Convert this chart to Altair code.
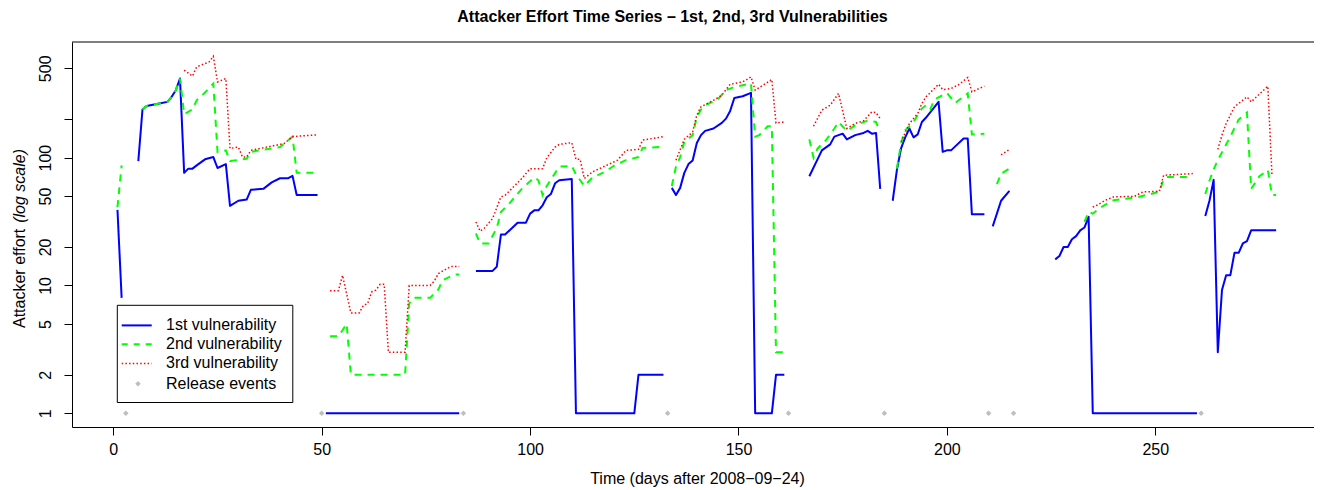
import altair as alt
import pandas as pd

# ---------------- data ----------------
SERIES = ["1st vulnerability", "2nd vulnerability", "3rd vulnerability"]

BLUE = [
    [(1, 39), (2, 8)],
    [(6, 94), (7, 238), (8, 254), (11, 265), (13, 273), (14, 299), (15, 337), (16, 416),
     (17, 76), (18, 82), (19, 82), (20, 87), (22, 97), (24, 101), (25, 83), (27, 89),
     (28, 42), (30, 46), (32, 47), (33, 56), (36, 57), (38, 64), (40, 69), (42, 69),
     (43, 72), (44, 51), (49, 51)],
    [(51, 1), (83, 1)],
    [(87, 13), (91, 13), (92, 14), (93, 25), (94, 25), (97, 31), (99, 31), (100, 36.5),
     (101, 38.7), (102, 38.7), (103, 42.4), (104, 49), (105, 52), (106, 63), (107, 66.5),
     (110, 68), (111, 1), (125, 1), (126, 2), (132, 2)],
    [(134, 58), (135, 51), (136, 58), (137, 76), (138, 89), (139, 95), (140, 130),
     (141, 150), (142, 162), (144, 169), (146, 187), (147, 202), (148, 232), (149, 293),
     (151, 302), (153, 321), (154, 1), (158, 1), (159, 2), (161, 2)],
    [(167, 71.5), (170, 114), (172, 127), (173, 146), (175, 154), (176, 139), (178, 150),
     (180, 156), (181, 162), (182, 154), (183, 156), (184, 57)],
    [(187, 46), (188, 80), (189, 118), (190, 144), (191, 169), (192, 144), (193, 152),
     (194, 190), (195, 206), (198, 273), (199, 111), (200, 114), (201, 114), (204, 141),
     (205, 141), (206, 36), (209, 36)],
    [(211, 29), (213, 46), (215, 55)],
    [(226, 16), (227, 17), (228, 20), (229, 20), (230, 23), (231, 24.3), (232, 27),
     (233, 28.4), (234, 34.4), (235, 1), (260, 1)],
    [(262, 35), (263, 46), (264, 67), (265, 3), (266, 9.2), (267, 12), (268, 12),
     (269, 18), (270, 18), (271, 21.3), (272, 22.2), (273, 27), (279, 27)],
]

GREEN = [
    [(1, 41), (2, 87)],
    [(7, 238), (8, 254), (11, 265), (13, 273), (14, 299), (15, 337), (16, 416), (17, 219),
     (19, 238), (20, 281), (22, 323), (24, 380), (25, 111), (27, 114), (28, 94), (32, 98),
     (33, 111), (40, 121), (43, 146), (44, 76), (49, 76)],
    [(52, 4), (54, 4), (56, 5), (57, 2), (70, 2), (71, 7.2), (72, 8), (76, 8), (78, 9.3),
     (79, 11), (82, 12.2), (83, 12.2)],
    [(87, 25.5), (88, 21.3), (90, 21.3), (92, 28), (93, 37.6), (95, 43.7), (98, 57),
     (101, 70), (102, 66.5), (103, 51), (104, 60), (107, 85), (110, 86), (111, 74),
     (113, 60), (115, 70), (118, 77.5), (120, 86), (123, 95.5), (126, 101), (127, 119),
     (131, 121)],
    [(134, 60), (135, 85), (136, 101), (137, 133), (139, 150), (140, 208), (141, 238),
     (142, 257), (145, 285), (147, 337), (149, 357), (153, 380), (154, 146), (155, 150),
     (157, 176), (158, 176), (159, 3), (161, 3)],
    [(167, 139), (168, 100), (169, 118), (171, 137), (173, 169), (174, 190), (176, 162),
     (178, 179), (181, 195), (183, 190), (184, 159)],
    [(188, 82), (189, 130), (190, 164), (192, 190), (194, 242), (195, 257), (196, 238),
     (197, 285), (200, 321), (202, 268), (205, 318), (206, 152), (209, 154)],
    [(212, 62), (213, 75), (215, 82)],
    [(233, 31.4), (234, 37.6), (235, 36.5), (237, 41), (240, 46.4), (243, 47.6),
     (246, 49.3), (251, 54), (252, 68), (253, 70.6), (259, 70.6)],
    [(262, 52), (263, 66), (264, 81), (265, 95.5), (268, 146), (270, 198), (272, 225),
     (273, 57), (275, 71.5), (277, 80), (278, 51), (279, 51)],
]

RED = [
    [(17, 483), (19, 434), (20, 513), (23, 561), (24, 621), (25, 391), (27, 416),
     (28, 118), (30, 121), (31, 101), (32, 101), (33, 114), (38, 123), (41, 129),
     (43, 146), (49, 151)],
    [(52, 9.1), (54, 9.1), (55, 12), (57, 6.1), (59, 6.1), (60, 7), (61, 7.2), (62, 8.9),
     (63, 9.2), (64, 10.2), (65, 10.2), (66, 3), (70, 3), (71, 10), (76, 10), (77, 10.8),
     (78, 12.4), (81, 14.1), (83, 14.1)],
    [(87, 31.4), (88, 26.6), (89, 28), (91, 33.4), (93, 49.3), (94, 50.8), (96, 59),
     (98, 68.6), (100, 82), (103, 82), (104, 99.5), (106, 121), (107, 127), (110, 131),
     (111, 97), (112, 97), (113, 68.6), (115, 77.5), (118, 86), (121, 95.5), (123, 114),
     (126, 116), (127, 137), (132, 146)],
    [(135, 95.5), (137, 139), (139, 159), (140, 215), (141, 250), (144, 281), (146, 308),
     (148, 375), (151, 391), (153, 428), (154, 337), (158, 408), (159, 187), (161, 190)],
    [(168, 176), (170, 235), (172, 257), (174, 318), (176, 169), (178, 185), (180, 194),
     (182, 228), (183, 225), (184, 202)],
    [(189, 133), (191, 185), (193, 221), (194, 265), (195, 299), (198, 375), (199, 341),
     (201, 347), (203, 375), (205, 424), (206, 327), (209, 362)],
    [(213, 105), (215, 116)],
    [(235, 41), (236, 42.4), (238, 46.4), (240, 49.3), (245, 49.8), (247, 53.9),
     (251, 54.6), (252, 72.8), (259, 75)],
    [(265, 116), (266, 150), (267, 185), (269, 250), (270, 265), (272, 299), (273, 273),
     (277, 362), (278, 72.8)],
]

RELEASE_DAYS = [3, 50, 84, 133, 162, 185, 210, 216, 261]
RELEASE_LEVEL = 1

X_TICKS = [0, 50, 100, 150, 200, 250]
Y_TICKS = [1, 2, 5, 10, 20, 50, 100, 200, 500]
LEGEND_LABELS = SERIES + ["Release events"]

TITLE = "Attacker Effort Time Series \u2013 1st, 2nd, 3rd Vulnerabilities"
X_TITLE = "Time (days after 2008\u221209\u221224)"

# ---------------- build tables ----------------
def table(segments, name):
    rows = []
    for i, seg in enumerate(segments):
        for d, v in seg:
            rows.append({"day": d, "effort": v, "series": name, "seg": f"{name}-{i}"})
    return pd.DataFrame(rows)

df1 = table(BLUE, SERIES[0])
df2 = table(GREEN, SERIES[1])
df3 = table(RED, SERIES[2])
dfr = pd.DataFrame({"day": RELEASE_DAYS, "effort": [RELEASE_LEVEL] * len(RELEASE_DAYS)})

W, H = 1242, 385
FONT = "Liberation Sans"

xscale = alt.Scale(domain=[-9.91, 288.08], nice=False, zero=False)
yscale = alt.Scale(type="log", domain=[0.781, 803], nice=False)

xaxis = alt.Axis(values=X_TICKS, format="d", tickSize=8, labelPadding=6, labelFontSize=16,
                 labelFlush=False, grid=False, title=X_TITLE, titleFontSize=16,
                 titleFontWeight="normal", titleX=625, titleY=56, titleBaseline="alphabetic",
                 titleAlign="center", titleAnchor="middle")
yaxis = alt.Axis(values=Y_TICKS, tickSize=8, labelPadding=14, labelFontSize=16,
                 labelAngle=270, labelAlign="center", labelBaseline="alphabetic",
                 labelExpr="datum.value == 200 ? '' : format(datum.value, 'd')",
                 labelOverlap=False, labelFlush=False, grid=False, title=None)

X = alt.X("day:Q", scale=xscale, axis=xaxis)
Y = alt.Y("effort:Q", scale=yscale, axis=yaxis)

blue = alt.Chart(df1).mark_line(color="#0000FF", strokeWidth=2, strokeJoin="round").encode(
    x=X, y=Y, detail="seg:N")
green = alt.Chart(df2).mark_line(color="#00FF00", strokeWidth=2, strokeDash=[7, 6]).encode(
    x=X, y=Y, detail="seg:N")
red = alt.Chart(df3).mark_line(color="#FF0000", strokeWidth=1.5, strokeDash=[1.5, 2.2]).encode(
    x=X, y=Y, detail="seg:N")
release = alt.Chart(dfr).mark_point(shape="diamond", filled=True, size=30, color="#BEBEBE",
                                     opacity=1).encode(x=X, y=Y)

one = pd.DataFrame({"k": [0]})
top_border = alt.Chart(one).mark_rule(color="black", strokeWidth=1).encode(
    x=alt.value(0), x2=alt.value(W), y=alt.value(0))

# main title (centred where the reference has it)
title_mark = alt.Chart(pd.DataFrame({"t": [TITLE]})).mark_text(
    align="center", baseline="alphabetic", fontSize=16, fontWeight="bold", font=FONT,
    color="black"
).encode(x=alt.value(600.5), y=alt.value(-20.5), text="t:N")

ytitle1 = alt.Chart(pd.DataFrame({"t": ["Attacker effort"]})).mark_text(
    angle=270, align="left", baseline="alphabetic", fontSize=16, font=FONT, color="black"
).encode(x=alt.value(-47), y=alt.value(286), text="t:N")
ytitle2 = alt.Chart(pd.DataFrame({"t": ["(log scale)"]})).mark_text(
    angle=270, align="right", baseline="alphabetic", fontSize=16, font=FONT, color="black",
    fontStyle="italic"
).encode(x=alt.value(-47), y=alt.value(107), text="t:N")

# legend box drawn in pixel space
LX0, LX1, LY0, LY1 = 45.3, 220.8, 263.3, 360.5
ROWS = [283.4, 302.2, 321.4, 341.7]
leg_box = alt.Chart(one).mark_rect(fill="white", stroke="black", strokeWidth=1).encode(
    x=alt.value(LX0), x2=alt.value(LX1), y=alt.value(LY0), y2=alt.value(LY1))
leg_l1 = alt.Chart(one).mark_rule(color="#0000FF", strokeWidth=2).encode(
    x=alt.value(49.7), x2=alt.value(79.7), y=alt.value(ROWS[0]))
leg_l2 = alt.Chart(one).mark_rule(color="#00FF00", strokeWidth=2, strokeDash=[6, 6]).encode(
    x=alt.value(49.7), x2=alt.value(79.7), y=alt.value(ROWS[1]))
leg_l3 = alt.Chart(one).mark_rule(color="#FF0000", strokeWidth=1.5, strokeDash=[1.5, 2.2]).encode(
    x=alt.value(49.7), x2=alt.value(79.7), y=alt.value(ROWS[2]))
leg_pt = alt.Chart(one).mark_point(shape="diamond", filled=True, size=30, color="#BEBEBE",
                                   opacity=1).encode(x=alt.value(66), y=alt.value(ROWS[3]))
leg_texts = [
    alt.Chart(pd.DataFrame({"t": [lab]})).mark_text(
        align="left", baseline="middle", fontSize=16, font=FONT, color="black"
    ).encode(x=alt.value(94), y=alt.value(ROWS[i]), text="t:N")
    for i, lab in enumerate(LEGEND_LABELS)
]

chart = alt.layer(
    blue, green, red, release, top_border, title_mark, ytitle1, ytitle2,
    leg_box, leg_l1, leg_l2, leg_l3, leg_pt, *leg_texts
).properties(
    width=W, height=H,
    padding={"left": 64, "top": 34, "right": 0, "bottom": 60},
    autosize=alt.AutoSizeParams(type="none"),
).configure(
    font=FONT, background="white"
).configure_view(
    stroke=None
).configure_axis(
    domainColor="black", tickColor="black", labelColor="black", titleColor="black",
    labelFont=FONT, titleFont=FONT, domainWidth=1, tickWidth=1
)

chart.save("out.html", embed_options={"renderer": "svg", "actions": False})
